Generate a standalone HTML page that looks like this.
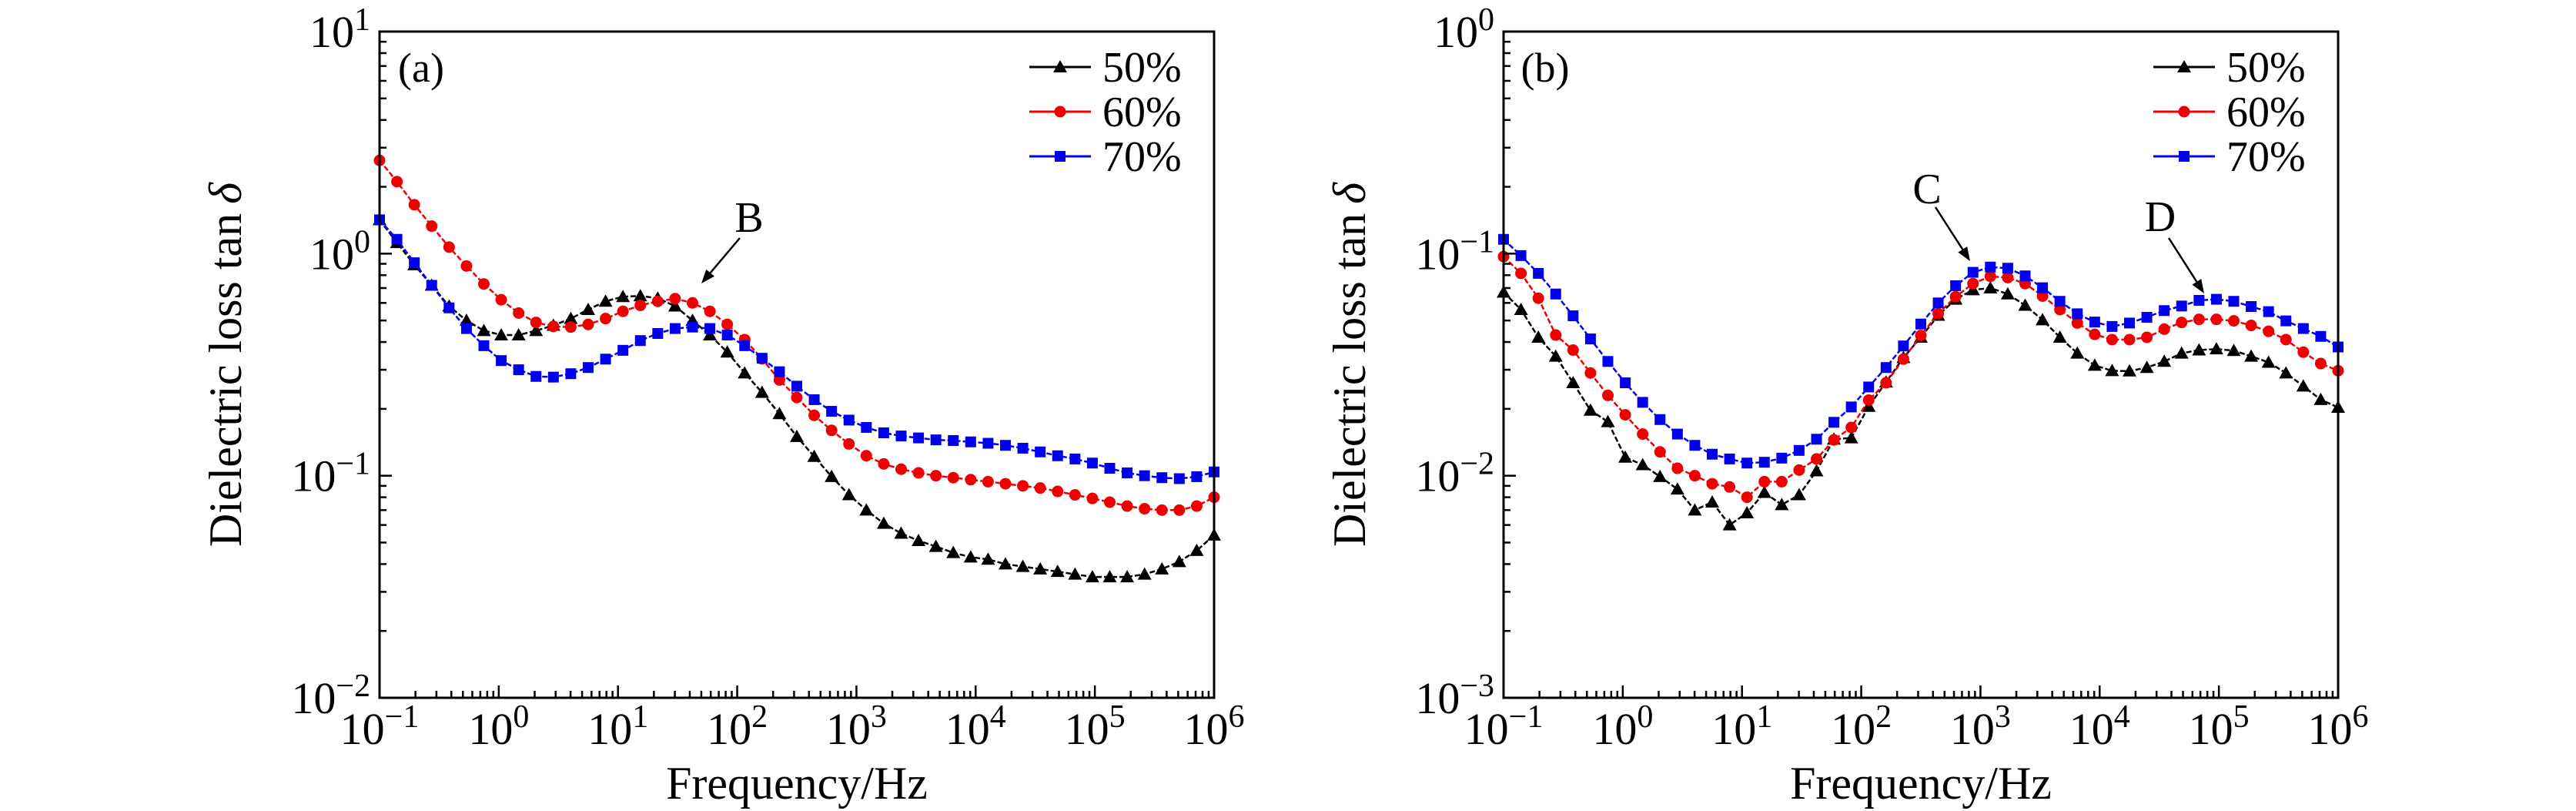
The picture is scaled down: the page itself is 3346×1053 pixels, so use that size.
<!DOCTYPE html>
<html><head><meta charset="utf-8">
<style>
html,body{margin:0;padding:0;background:#fff;}
svg{display:block;}
svg text{font-family:"Liberation Serif","DejaVu Serif",serif;}
</style></head>
<body>
<svg id="chart" width="3346" height="1053" viewBox="0 0 3346 1053" xmlns="http://www.w3.org/2000/svg"></svg>
<script>
const tickExpX = [-1,0,1,2,3,4,5,6];
const tickExpYa = [-2,-1,0,1];
const tickExpYb = [-3,-2,-1,0];
const seriesLabels = ["50%","60%","70%"];
const nPoints = 49;
const a50 = [1.42,1.12,0.89,0.72,0.58,0.50,0.45,0.43,0.43,0.45,0.475,0.51,0.56,0.61,0.64,0.645,0.63,0.58,0.50,0.43,0.36,0.29,0.237,0.19,0.15,0.122,0.099,0.082,0.070,0.061,0.055,0.051,0.048,0.045,0.043,0.042,0.040,0.039,0.038,0.037,0.036,0.035,0.035,0.035,0.036,0.038,0.041,0.046,0.054];
const a60 = [2.63,2.11,1.66,1.33,1.07,0.88,0.73,0.62,0.54,0.49,0.47,0.467,0.48,0.51,0.55,0.585,0.61,0.627,0.60,0.55,0.48,0.41,0.336,0.27,0.225,0.187,0.16,0.139,0.123,0.113,0.107,0.103,0.100,0.098,0.096,0.094,0.092,0.090,0.088,0.085,0.082,0.079,0.076,0.073,0.071,0.070,0.070,0.073,0.080];
const a70 = [1.42,1.16,0.91,0.72,0.57,0.46,0.385,0.33,0.30,0.28,0.278,0.288,0.307,0.335,0.367,0.406,0.437,0.46,0.467,0.46,0.43,0.385,0.338,0.294,0.253,0.22,0.195,0.178,0.165,0.156,0.151,0.148,0.145,0.144,0.142,0.140,0.137,0.133,0.128,0.123,0.119,0.114,0.108,0.103,0.1,0.098,0.097,0.099,0.104];
const b50 = [0.067,0.056,0.042,0.0345,0.0262,0.0197,0.0175,0.0121,0.0112,0.0099,0.0087,0.0070,0.0076,0.0060,0.0068,0.0084,0.0074,0.0082,0.0105,0.0146,0.0148,0.0205,0.0264,0.034,0.042,0.0527,0.0623,0.0687,0.070,0.0658,0.0585,0.0503,0.042,0.0356,0.0314,0.0297,0.0296,0.0307,0.0327,0.0356,0.0368,0.0372,0.0366,0.0345,0.0324,0.029,0.0253,0.022,0.0203];
const b60 = [0.097,0.0815,0.063,0.043,0.0368,0.029,0.023,0.0188,0.0154,0.0128,0.0108,0.0100,0.0092,0.0089,0.0080,0.0094,0.0094,0.0106,0.0119,0.0145,0.0165,0.0219,0.0262,0.0335,0.0428,0.0537,0.064,0.0733,0.079,0.078,0.0733,0.0644,0.056,0.0487,0.0433,0.041,0.041,0.042,0.0457,0.049,0.0506,0.0506,0.0498,0.0475,0.0447,0.041,0.036,0.032,0.0297];
const b70 = [0.116,0.098,0.0815,0.0658,0.0525,0.0413,0.0327,0.0262,0.0214,0.0179,0.0154,0.0137,0.0125,0.0119,0.0114,0.0115,0.0120,0.0130,0.0146,0.0174,0.0204,0.0251,0.0307,0.0384,0.0482,0.060,0.0717,0.0824,0.087,0.086,0.0794,0.0702,0.061,0.0536,0.0492,0.047,0.0487,0.0517,0.0554,0.0581,0.0616,0.0623,0.061,0.0578,0.0548,0.0498,0.046,0.0424,0.038];

const NS = "http://www.w3.org/2000/svg";
const svg = document.getElementById('chart');
const FONT = '"Liberation Serif", "DejaVu Serif", serif';
function mk(tag, attrs, parent){
  const e = document.createElementNS(NS, tag);
  for (const k in attrs) e.setAttribute(k, attrs[k]);
  if (tag === 'text') e.setAttribute('font-family', FONT);
  (parent||svg).appendChild(e);
  return e;
}
const colors = ["#000000","#ee0000","#0000ee"];
const markers = ["tri","circ","sq"];

function freqs(){ const f=[]; for(let i=0;i<nPoints;i++) f.push(-1 + 7*i/(nPoints-1)); return f; }

function drawPanel(cfg){
  const L=cfg.left, R=cfg.left+1084, T=41, B=906;
  const xMin=-1, xMax=6, yMin=cfg.yMin, yMax=cfg.yMax;
  const xs = v => L + (v - xMin)/(xMax-xMin)*(R-L);
  const ys = v => B - (Math.log10(v) - yMin)/(yMax-yMin)*(B-T);
  const g = mk('g',{});
  
  
  const lx = freqs();
  cfg.series.forEach((data, si) => {
    const sg = mk('g',{},g);
    
    
    const pts = data.map((v,i)=> xs(lx[i]).toFixed(1)+','+ys(v).toFixed(1)).join(' ');
    const pl = mk('polyline',{points:pts, fill:'none', stroke:colors[si], 'stroke-width':2.5, 'stroke-dasharray':'7 3'}, sg);
    
    
    data.forEach((v,i)=>{
      const m = drawMarker(markers[si], xs(lx[i]), ys(v), colors[si], sg);
      
      
    });
  });
  const box = mk('rect',{x:L,y:T,width:R-L,height:B-T,fill:'none',stroke:'#000','stroke-width':3},g);
  
  
  tickExpX.forEach(e=>{
    const x = xs(e);
    if(e>xMin && e<xMax) mk('line',{x1:x,x2:x,y1:B,y2:B-16,stroke:'#000','stroke-width':2.5},g);
    if(e<xMax) for(let k=2;k<=9;k++){ const xm = xs(e+Math.log10(k)); mk('line',{x1:xm,x2:xm,y1:B,y2:B-9,stroke:'#000','stroke-width':2.5},g); }
    const t = mk('text',{x:x,y:966,'text-anchor':'middle','font-size':58},g);
    
    
    t.innerHTML = '10<tspan dy="-22" font-size="42">'+(e<0?'\u2212'+(-e):e)+'</tspan>';
  });
  cfg.ticksY.forEach(e=>{
    const y = ys(Math.pow(10,e));
    if(e>yMin && e<yMax) mk('line',{x1:L,x2:L+16,y1:y,y2:y,stroke:'#000','stroke-width':2.5},g);
    if(e<yMax) for(let k=2;k<=9;k++){ const ym = ys(Math.pow(10,e)*k); mk('line',{x1:L,x2:L+9,y1:ym,y2:ym,stroke:'#000','stroke-width':2.5},g); }
    const t = mk('text',{x:L-12,y:y+20,'text-anchor':'end','font-size':58},g);
    
    
    t.innerHTML = '10<tspan dy="-22" font-size="42">'+(e<0?'\u2212'+(-e):e)+'</tspan>';
  });
  const xt = mk('text',{x:(L+R)/2,y:1037,'text-anchor':'middle','font-size':60},g);
  xt.textContent='Frequency/Hz';
  
  
  const yt = mk('text',{x:0,y:0,'text-anchor':'middle','font-size':60,transform:'translate('+(L-180)+','+((T+B)/2)+') rotate(-90)'},g);
  yt.innerHTML='Dielectric loss tan<tspan font-style="italic">\u2009\u03b4</tspan>';
  
  
  const pl = mk('text',{x:L+54,y:106,'text-anchor':'middle','font-size':54},g);
  pl.textContent = cfg.panel;
  
  
  const lg = mk('g',{},g);
  
  
  seriesLabels.forEach((s,si)=>{
    const y = 87 + si*58;
    const e = mk('g',{},lg);
    
    
    mk('line',{x1:R-240,x2:R-160,y1:y,y2:y,stroke:colors[si],'stroke-width':3},e);
    drawMarker(markers[si], R-200, y, colors[si], e);
    const t = mk('text',{x:R-145,y:y+19,'font-size':56},e);
    t.textContent = s;
  });
  cfg.annos.forEach(a=>{
    const ag = mk('g',{},g);
    
    
    const t = mk('text',{x:a.tx,y:a.ty+19,'text-anchor':'middle','font-size':56},ag);
    t.textContent = a.t;
    const dx=a.x2-a.x1, dy=a.y2-a.y1, len=Math.hypot(dx,dy), ux=dx/len, uy=dy/len;
    const hx=a.x2-ux*18, hy=a.y2-uy*18;
    mk('line',{x1:a.x1,y1:a.y1,x2:hx,y2:hy,stroke:'#000','stroke-width':2.5},ag);
    mk('polygon',{points:a.x2+','+a.y2+' '+(hx-uy*7)+','+(hy+ux*7)+' '+(hx+uy*7)+','+(hy-ux*7),fill:'#000'},ag);
  });
}
function drawMarker(type,x,y,c,parent){
  if(type==='tri') return mk('polygon',{points:x+','+(y-9)+' '+(x-9)+','+(y+7)+' '+(x+9)+','+(y+7),fill:c},parent);
  if(type==='circ') return mk('circle',{cx:x,cy:y,r:7.5,fill:c},parent);
  return mk('rect',{x:x-7,y:y-7,width:14,height:14,fill:c},parent);
}
drawPanel({name:'panel-a',panel:'(a)',left:493,yMin:-2,yMax:1,ticksY:tickExpYa,series:[a50,a60,a70],
  annos:[{t:'B',tx:973,ty:282,x1:961,y1:309,x2:911,y2:368}]});
drawPanel({name:'panel-b',panel:'(b)',left:1953,yMin:-3,yMax:0,ticksY:tickExpYb,series:[b50,b60,b70],
  annos:[{t:'C',tx:2503,ty:245,x1:2514,y1:269,x2:2559,y2:339},{t:'D',tx:2806,ty:281,x1:2817,y1:309,x2:2863,y2:381}]});
</script>
</body></html>
